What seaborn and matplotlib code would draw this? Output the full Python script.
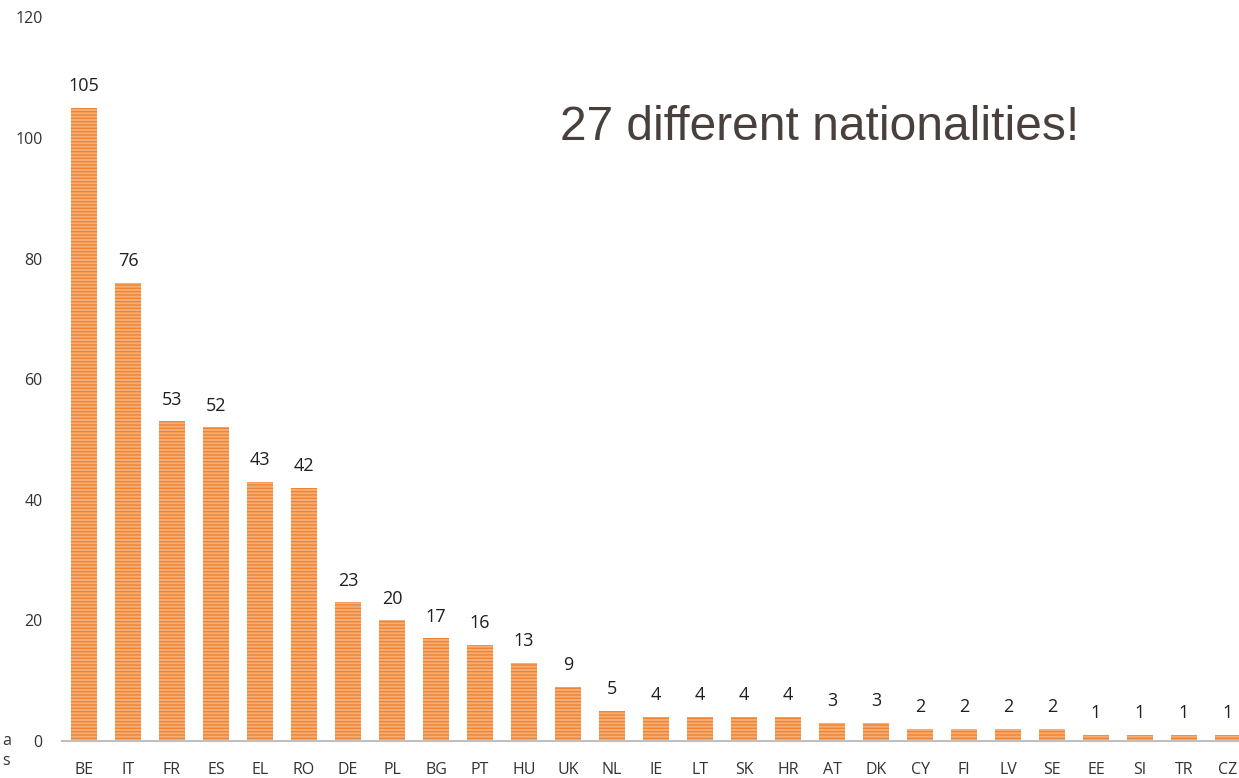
import matplotlib
matplotlib.use("Agg")
import matplotlib.pyplot as plt
import pandas as pd
import seaborn as sns

countries = ["BE", "IT", "FR", "ES", "EL", "RO", "DE", "PL", "BG", "PT", "HU", "UK", "NL", "IE",
             "LT", "SK", "HR", "AT", "DK", "CY", "FI", "LV", "SE", "EE", "SI", "TR", "CZ"]
counts = [105, 76, 53, 52, 43, 42, 23, 20, 17, 16, 13, 9, 5, 4,
          4, 4, 4, 3, 3, 2, 2, 2, 2, 1, 1, 1, 1]
y_ticks = [0, 20, 40, 60, 80, 100, 120]
headline = "27 different nationalities!"


def main():
    sns.set_theme(style="white")
    plt.rcParams["font.family"] = ["Open Sans", "DejaVu Sans"]
    plt.rcParams["hatch.linewidth"] = 1.0

    df = pd.DataFrame({"country": countries, "count": counts})

    fig = plt.figure(figsize=(12.39, 7.78), dpi=100)
    # axes run past the right edge, as in the cropped original
    ax = fig.add_axes([62 / 1239, 37 / 778, (1250 - 62) / 1239, (741 - 17.4) / 778])

    sns.barplot(
        data=df, x="country", y="count", ax=ax, width=0.6,
        color="#F7AE74", edgecolor="#EE8433", linewidth=0, hatch="-----",
        saturation=1,
    )
    for p in ax.patches:
        p.set_hatch("-----")
        p.set_edgecolor("#EE8433")

    for i, v in enumerate(counts):
        ax.annotate(str(v), (i, v), xytext=(0, 9), textcoords="offset points",
                    ha="center", va="bottom", fontsize=13, color="#1F1F1F")

    ax.set_ylim(0, 120)
    ax.set_xlim(-0.5, len(countries) - 0.5)
    ax.set_yticks(y_ticks)
    ax.set_yticklabels([str(t) for t in y_ticks], fontsize=11.5, color="#333333")
    ax.tick_params(axis="x", labelsize=11.5, colors="#333333", pad=15, length=0)
    ax.tick_params(axis="y", pad=14, length=0)
    ax.set_xlabel("")
    ax.set_ylabel("")
    for side in ["top", "right", "left"]:
        ax.spines[side].set_visible(False)
    ax.spines["bottom"].set_color("#BFBFBF")
    ax.spines["bottom"].set_linewidth(1.5)

    fig.text(560 / 1239, 1 - 128 / 778, headline, fontsize=34.5, color="#4A403B",
             family=["Liberation Sans", "DejaVu Sans"], ha="left", va="center")
    fig.text(0.002, 1 - 741 / 778, "a", fontsize=11.5, color="#333333", va="center")
    fig.text(0.002, 1 - 761 / 778, "s", fontsize=11.5, color="#333333", va="center")

    fig.savefig("out.png", dpi=100)
    plt.close(fig)


if __name__ == "__main__":
    main()
